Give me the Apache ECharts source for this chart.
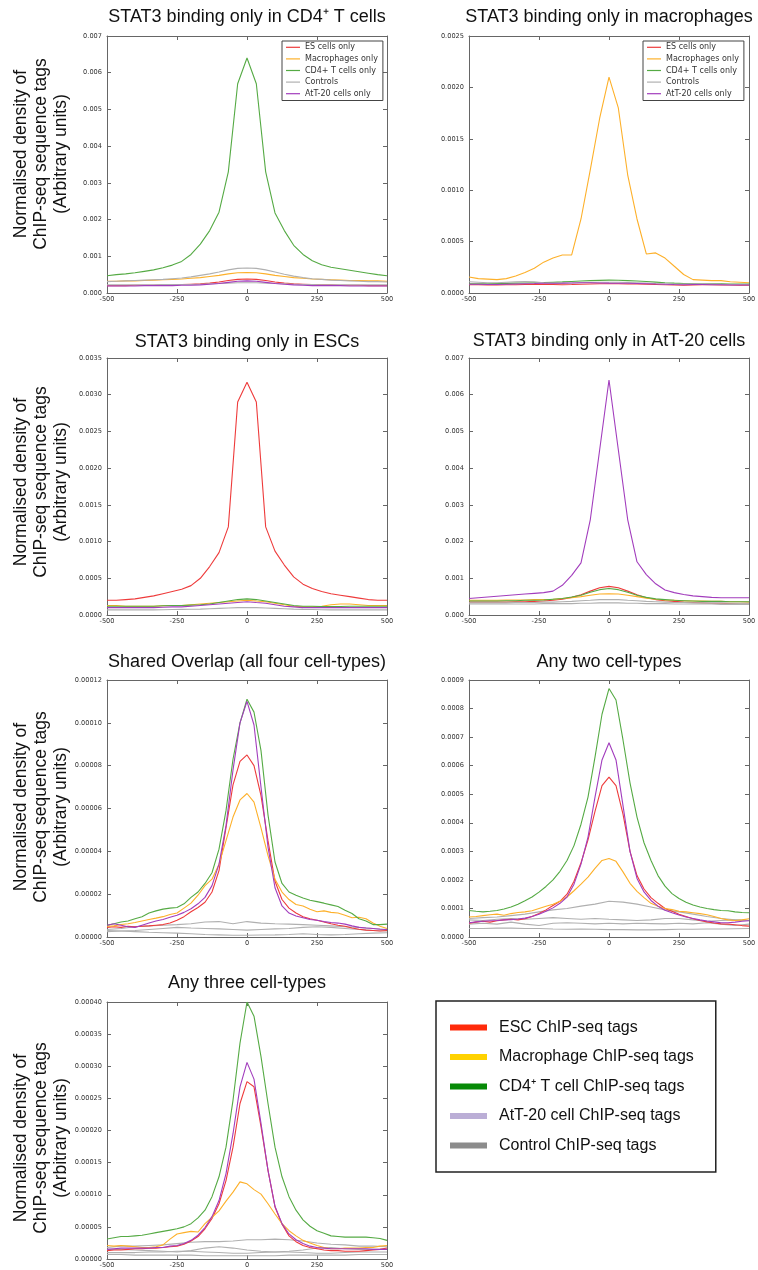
<!DOCTYPE html>
<html>
<head>
<meta charset="utf-8">
<title>STAT3 binding profiles</title>
<script src="https://cdn.jsdelivr.net/npm/echarts@6/dist/echarts.min.js"></script>
<style>
    html, body { margin: 0; padding: 0; background: #fff; }
    #main { width: 758px; height: 1270px; }
</style>
</head>
<body>
<div id="main"></div>
<script>
// ------ data ------------------------------------------------------------
// distance from the STAT3 peak (bp)
var xTop = [-500, -466.7, -433.3, -400, -366.7, -333.3, -300, -266.7, -233.3, -200, -166.7, -133.3, -100, -66.7, -33.3, 0,
    33.3, 66.7, 100, 133.3, 166.7, 200, 233.3, 266.7, 300, 333.3, 366.7, 400, 433.3, 466.7, 500];
var xFine = [-500, -475, -450, -425, -400, -375, -350, -325, -300, -275, -250, -225, -200, -175, -150, -125, -100, -75, -50, -25, 0,
    25, 50, 75, 100, 125, 150, 175, 200, 225, 250, 275, 300, 325, 350, 375, 400, 425, 450, 475, 500];
var xCoarse = [-500, -450, -400, -350, -300, -250, -200, -150, -100, -50, 0, 50, 100, 150, 200, 250, 300, 350, 400, 450, 500];

// STAT3 binding only in CD4+ T cells
var cd4Only_es = [0.00020, 0.00020, 0.00020, 0.00021, 0.00021, 0.00021, 0.00022, 0.00022, 0.00023, 0.00024, 0.00025, 0.00027, 0.00030, 0.00034, 0.00037, 0.00038,
    0.00037, 0.00034, 0.00030, 0.00027, 0.00025, 0.00024, 0.00023, 0.00022, 0.00022, 0.00021, 0.00021, 0.00021, 0.00020, 0.00020, 0.00020];
var cd4Only_mac = [0.00032, 0.00032, 0.00033, 0.00033, 0.00034, 0.00035, 0.00036, 0.00037, 0.00038, 0.00040, 0.00042, 0.00045, 0.00048, 0.00052, 0.00055, 0.00056,
    0.00055, 0.00052, 0.00048, 0.00045, 0.00042, 0.00040, 0.00038, 0.00037, 0.00036, 0.00035, 0.00034, 0.00034, 0.00033, 0.00033, 0.00032];
var cd4Only_cd4 = [0.00047, 0.00050, 0.00052, 0.00055, 0.00059, 0.00063, 0.00069, 0.00076, 0.00086, 0.00105, 0.00133, 0.00170, 0.00220, 0.00330, 0.00570, 0.00640,
    0.00570, 0.00330, 0.00218, 0.00170, 0.00130, 0.00105, 0.00088, 0.00077, 0.00070, 0.00066, 0.00062, 0.00058, 0.00054, 0.00050, 0.00047];
var cd4Only_ctrlA = [0.00031, 0.00032, 0.00033, 0.00034, 0.00035, 0.00036, 0.00037, 0.00039, 0.00041, 0.00044, 0.00048, 0.00052, 0.00057, 0.00063, 0.00067, 0.00068,
    0.00067, 0.00063, 0.00057, 0.00051, 0.00046, 0.00042, 0.00039, 0.00037, 0.00035, 0.00034, 0.00033, 0.00032, 0.00031, 0.00031, 0.00030];
var cd4Only_ctrlB = [0.00022, 0.00022, 0.00022, 0.00022, 0.00022, 0.00022, 0.00023, 0.00023, 0.00023, 0.00023, 0.00024, 0.00025, 0.00026, 0.00027, 0.00028, 0.00028,
    0.00028, 0.00027, 0.00026, 0.00025, 0.00024, 0.00023, 0.00023, 0.00022, 0.00022, 0.00022, 0.00022, 0.00022, 0.00022, 0.00022, 0.00022];
var cd4Only_att = [0.00019, 0.00019, 0.00019, 0.00019, 0.00020, 0.00020, 0.00020, 0.00020, 0.00021, 0.00021, 0.00022, 0.00024, 0.00026, 0.00029, 0.00032, 0.00033,
    0.00032, 0.00029, 0.00026, 0.00024, 0.00022, 0.00021, 0.00020, 0.00020, 0.00020, 0.00020, 0.00019, 0.00019, 0.00019, 0.00019, 0.00019];

// STAT3 binding only in macrophages
var macOnly_es = [0.000080, 0.000080, 0.000078, 0.000078, 0.000080, 0.000080, 0.000082, 0.000082, 0.000085, 0.000083, 0.000080, 0.000082, 0.000085, 0.000088, 0.000090, 0.000090,
    0.000090, 0.000088, 0.000088, 0.000086, 0.000083, 0.000080, 0.000078, 0.000075, 0.000078, 0.000080, 0.000080, 0.000078, 0.000078, 0.000077, 0.000077];
var macOnly_mac = [0.000155, 0.000140, 0.000135, 0.000130, 0.000140, 0.000165, 0.000200, 0.000240, 0.000300, 0.000340, 0.000370, 0.000370, 0.000720, 0.001200, 0.001700, 0.002100,
    0.001800, 0.001150, 0.000720, 0.000380, 0.000390, 0.000340, 0.000260, 0.000180, 0.000130, 0.000125, 0.000120, 0.000120, 0.000110, 0.000105, 0.000100];
var macOnly_cd4 = [0.000090, 0.000090, 0.000090, 0.000092, 0.000094, 0.000096, 0.000098, 0.000100, 0.000102, 0.000105, 0.000108, 0.000112, 0.000116, 0.000120, 0.000123, 0.000125,
    0.000124, 0.000120, 0.000116, 0.000112, 0.000106, 0.000100, 0.000096, 0.000093, 0.000092, 0.000090, 0.000090, 0.000090, 0.000088, 0.000088, 0.000088];
var macOnly_ctrl = [0.000110, 0.000105, 0.000100, 0.000100, 0.000105, 0.000110, 0.000112, 0.000108, 0.000100, 0.000095, 0.000095, 0.000097, 0.000100, 0.000102, 0.000104, 0.000105,
    0.000104, 0.000102, 0.000100, 0.000098, 0.000092, 0.000088, 0.000085, 0.000088, 0.000090, 0.000090, 0.000088, 0.000085, 0.000083, 0.000082, 0.000080];
var macOnly_att = [0.000085, 0.000085, 0.000083, 0.000082, 0.000085, 0.000088, 0.000090, 0.000092, 0.000095, 0.000095, 0.000096, 0.000098, 0.000100, 0.000100, 0.000098, 0.000096,
    0.000095, 0.000095, 0.000093, 0.000090, 0.000087, 0.000085, 0.000082, 0.000080, 0.000082, 0.000082, 0.000080, 0.000080, 0.000078, 0.000078, 0.000078];

// STAT3 binding only in ESCs
var escOnly_es = [0.00020, 0.00020, 0.00021, 0.00022, 0.00024, 0.00026, 0.00029, 0.00032, 0.00035, 0.00040, 0.00050, 0.00066, 0.00085, 0.00120, 0.00290, 0.00317,
    0.00290, 0.00120, 0.00087, 0.00068, 0.00052, 0.00042, 0.00036, 0.00032, 0.00029, 0.00027, 0.00025, 0.00023, 0.00021, 0.00020, 0.00020];
var escOnly_mac = [0.00013, 0.00013, 0.00012, 0.00012, 0.00012, 0.00012, 0.000125, 0.00013, 0.00013, 0.00014, 0.00015, 0.00016, 0.00017, 0.00018, 0.00019, 0.00020,
    0.00019, 0.00018, 0.00016, 0.00014, 0.00012, 0.00011, 0.00011, 0.00012, 0.00014, 0.00015, 0.00015, 0.00014, 0.00013, 0.00013, 0.00013];
var escOnly_cd4 = [0.00012, 0.00012, 0.00012, 0.00012, 0.00012, 0.00012, 0.000125, 0.00013, 0.00013, 0.000135, 0.00014, 0.00015, 0.00017, 0.00019, 0.00021, 0.00022,
    0.00021, 0.00019, 0.00017, 0.00015, 0.00013, 0.00012, 0.00012, 0.000115, 0.000115, 0.000115, 0.00012, 0.00012, 0.00012, 0.00012, 0.00012];
var escOnly_ctrl = [0.00007, 0.00007, 0.00007, 0.00007, 0.00007, 0.00007, 0.000072, 0.000074, 0.000076, 0.000078, 0.00008, 0.000085, 0.00009, 0.000095, 0.0001, 0.0001,
    0.0001, 0.000095, 0.00009, 0.000085, 0.00008, 0.000076, 0.000074, 0.000072, 0.00007, 0.00007, 0.00007, 0.00007, 0.00007, 0.00007, 0.00007];
var escOnly_att = [0.0001, 0.0001, 0.0001, 0.0001, 0.0001, 0.0001, 0.000105, 0.00011, 0.00011, 0.00012, 0.00013, 0.00014, 0.00015, 0.00016, 0.00017, 0.00018,
    0.00017, 0.00016, 0.00014, 0.00012, 0.00011, 0.0001, 0.0001, 0.0001, 0.0001, 0.0001, 0.0001, 0.0001, 0.0001, 0.0001, 0.0001];

// STAT3 binding only in AtT-20 cells
var attOnly_es = [0.00035, 0.00035, 0.00035, 0.00035, 0.00035, 0.00036, 0.00036, 0.00037, 0.00038, 0.00040, 0.00043, 0.00048, 0.00055, 0.00065, 0.00074, 0.00078,
    0.00074, 0.00065, 0.00055, 0.00047, 0.00042, 0.00039, 0.00037, 0.00035, 0.00034, 0.00033, 0.00032, 0.00032, 0.00031, 0.00030, 0.00030];
var attOnly_mac = [0.00040, 0.00040, 0.00040, 0.00040, 0.00041, 0.00041, 0.00041, 0.00042, 0.00042, 0.00043, 0.00045, 0.00047, 0.00050, 0.00054, 0.00057, 0.00058,
    0.00057, 0.00054, 0.00050, 0.00046, 0.00043, 0.00041, 0.00040, 0.00039, 0.00038, 0.00038, 0.00037, 0.00037, 0.00036, 0.00036, 0.00035];
var attOnly_cd4 = [0.00038, 0.00038, 0.00038, 0.00038, 0.00039, 0.00039, 0.00040, 0.00040, 0.00041, 0.00043, 0.00045, 0.00049, 0.00054, 0.00062, 0.00069, 0.00072,
    0.00069, 0.00062, 0.00054, 0.00048, 0.00044, 0.00042, 0.00040, 0.00039, 0.00038, 0.00037, 0.00037, 0.00037, 0.00036, 0.00036, 0.00036];
var attOnly_ctrlA = [0.00033, 0.00033, 0.00033, 0.00033, 0.00033, 0.00034, 0.00034, 0.00034, 0.00035, 0.00035, 0.00036, 0.00037, 0.00039, 0.00040, 0.00042, 0.00042,
    0.00042, 0.00040, 0.00039, 0.00037, 0.00036, 0.00035, 0.00034, 0.00034, 0.00033, 0.00033, 0.00033, 0.00033, 0.00032, 0.00032, 0.00032];
var attOnly_ctrlB = [0.00030, 0.00030, 0.00030, 0.00030, 0.00030, 0.00030, 0.00030, 0.00030, 0.00031, 0.00031, 0.00031, 0.00031, 0.00032, 0.00032, 0.00033, 0.00033,
    0.00033, 0.00032, 0.00032, 0.00031, 0.00031, 0.00031, 0.00030, 0.00030, 0.00030, 0.00030, 0.00030, 0.00029, 0.00029, 0.00029, 0.00029];
var attOnly_att = [0.00045, 0.00047, 0.00049, 0.00051, 0.00053, 0.00055, 0.00057, 0.00059, 0.00061, 0.00065, 0.00081, 0.00108, 0.00142, 0.00260, 0.00450, 0.00640,
    0.00450, 0.00260, 0.00145, 0.00110, 0.00085, 0.00068, 0.00061, 0.00056, 0.00052, 0.00050, 0.00048, 0.00047, 0.00047, 0.00047, 0.00047];

// Shared overlap (all four cell-types)
var shared_es = [0.0000045, 0.0000048, 0.0000045, 0.0000050, 0.0000048, 0.0000050, 0.0000052, 0.0000055, 0.0000058, 0.0000065,
    0.0000078, 0.0000095, 0.0000118, 0.0000138, 0.0000162, 0.0000210, 0.0000310, 0.0000510, 0.0000710, 0.0000820, 0.0000850,
    0.0000800, 0.0000660, 0.0000450, 0.0000260, 0.0000175, 0.0000135, 0.0000112, 0.0000095, 0.0000085, 0.0000078,
    0.0000070, 0.0000062, 0.0000055, 0.0000050, 0.0000042, 0.0000036, 0.0000032, 0.0000030, 0.0000028, 0.0000030];
var shared_mac = [0.0000050, 0.0000052, 0.0000058, 0.0000062, 0.0000068, 0.0000075, 0.0000082, 0.0000088, 0.0000095, 0.0000105,
    0.0000112, 0.0000135, 0.0000158, 0.0000195, 0.0000240, 0.0000270, 0.0000340, 0.0000450, 0.0000560, 0.0000640, 0.0000670,
    0.0000630, 0.0000510, 0.0000380, 0.0000270, 0.0000210, 0.0000175, 0.0000152, 0.0000145, 0.0000130, 0.0000118,
    0.0000122, 0.0000115, 0.0000112, 0.0000102, 0.0000090, 0.0000092, 0.0000085, 0.0000065, 0.0000050, 0.0000040];
var shared_cd4 = [0.0000055, 0.0000062, 0.0000070, 0.0000075, 0.0000085, 0.0000095, 0.0000112, 0.0000122, 0.0000130, 0.0000135,
    0.0000138, 0.0000155, 0.0000185, 0.0000210, 0.0000250, 0.0000300, 0.0000410, 0.0000590, 0.0000830, 0.0001000, 0.0001110,
    0.0001050, 0.0000870, 0.0000570, 0.0000350, 0.0000250, 0.0000210, 0.0000195, 0.0000182, 0.0000172, 0.0000165,
    0.0000158, 0.0000150, 0.0000142, 0.0000125, 0.0000110, 0.0000085, 0.0000075, 0.0000058, 0.0000058, 0.0000060];
var shared_att = [0.0000055, 0.0000062, 0.0000055, 0.0000048, 0.0000045, 0.0000055, 0.0000065, 0.0000075, 0.0000082, 0.0000092,
    0.0000102, 0.0000115, 0.0000132, 0.0000155, 0.0000185, 0.0000240, 0.0000340, 0.0000520, 0.0000780, 0.0001000, 0.0001100,
    0.0000990, 0.0000700, 0.0000420, 0.0000230, 0.0000145, 0.0000112, 0.0000098, 0.0000090, 0.0000082, 0.0000078,
    0.0000072, 0.0000068, 0.0000065, 0.0000060, 0.0000052, 0.0000045, 0.0000042, 0.0000040, 0.0000036, 0.0000035];
var shared_ctrlA = [0.0000035, 0.0000040, 0.0000048, 0.0000052, 0.0000055, 0.0000058, 0.0000062, 0.0000070, 0.0000072, 0.0000062, 0.0000072,
    0.0000065, 0.0000062, 0.0000060, 0.0000058, 0.0000055, 0.0000052, 0.0000048, 0.0000045, 0.0000040, 0.0000035];
var shared_ctrlB = [0.0000025, 0.0000028, 0.0000030, 0.0000035, 0.0000040, 0.0000045, 0.0000042, 0.0000040, 0.0000038, 0.0000035, 0.0000032,
    0.0000035, 0.0000038, 0.0000040, 0.0000045, 0.0000048, 0.0000045, 0.0000040, 0.0000035, 0.0000030, 0.0000028];
var shared_ctrlC = [0.0000030, 0.0000028, 0.0000025, 0.0000022, 0.0000020, 0.0000018, 0.0000015, 0.0000012, 0.0000010, 0.0000008, 0.0000008,
    0.0000009, 0.0000010, 0.0000012, 0.0000015, 0.0000012, 0.0000010, 0.0000012, 0.0000015, 0.0000018, 0.0000020];

// Any two cell-types
var two_es = [0.000048, 0.000052, 0.000055, 0.000052, 0.000057, 0.000060, 0.000062, 0.000060, 0.000064, 0.000072,
    0.000082, 0.000095, 0.000110, 0.000125, 0.000150, 0.000195, 0.000260, 0.000340, 0.000440, 0.000530, 0.000560,
    0.000530, 0.000430, 0.000300, 0.000215, 0.000168, 0.000138, 0.000118, 0.000100, 0.000090, 0.000080,
    0.000072, 0.000064, 0.000058, 0.000053, 0.000049, 0.000046, 0.000045, 0.000043, 0.000040, 0.000038];
var two_mac = [0.000070, 0.000072, 0.000075, 0.000078, 0.000080, 0.000076, 0.000082, 0.000086, 0.000088, 0.000092,
    0.000100, 0.000108, 0.000115, 0.000125, 0.000140, 0.000162, 0.000185, 0.000210, 0.000240, 0.000268, 0.000275,
    0.000265, 0.000228, 0.000188, 0.000160, 0.000138, 0.000118, 0.000108, 0.000100, 0.000096, 0.000090,
    0.000088, 0.000085, 0.000082, 0.000078, 0.000072, 0.000065, 0.000060, 0.000058, 0.000060, 0.000064];
var two_cd4 = [0.000093, 0.000090, 0.000088, 0.000090, 0.000093, 0.000098, 0.000105, 0.000115, 0.000127, 0.000140,
    0.000157, 0.000177, 0.000200, 0.000230, 0.000268, 0.000320, 0.000395, 0.000490, 0.000630, 0.000780, 0.000870,
    0.000830, 0.000690, 0.000540, 0.000420, 0.000330, 0.000268, 0.000215, 0.000178, 0.000152, 0.000135,
    0.000122, 0.000112, 0.000105, 0.000100, 0.000096, 0.000093, 0.000092, 0.000088, 0.000086, 0.000085];
var two_att = [0.000050, 0.000053, 0.000055, 0.000057, 0.000058, 0.000060, 0.000061, 0.000063, 0.000066, 0.000072,
    0.000080, 0.000090, 0.000102, 0.000118, 0.000140, 0.000185, 0.000255, 0.000350, 0.000490, 0.000620, 0.000680,
    0.000620, 0.000460, 0.000300, 0.000205, 0.000158, 0.000128, 0.000108, 0.000094, 0.000085, 0.000077,
    0.000070, 0.000065, 0.000060, 0.000056, 0.000053, 0.000050, 0.000050, 0.000052, 0.000055, 0.000057];
var two_ctrlA = [0.000065, 0.000068, 0.000070, 0.000075, 0.000080, 0.000088, 0.000095, 0.000100, 0.000108, 0.000115, 0.000125,
    0.000122, 0.000115, 0.000105, 0.000095, 0.000088, 0.000080, 0.000072, 0.000065, 0.000060, 0.000058];
var two_ctrlB = [0.000060, 0.000058, 0.000062, 0.000065, 0.000062, 0.000065, 0.000068, 0.000065, 0.000062, 0.000065, 0.000062,
    0.000060, 0.000058, 0.000060, 0.000065, 0.000065, 0.000060, 0.000055, 0.000058, 0.000060, 0.000058];
var two_ctrlC = [0.000045, 0.000048, 0.000045, 0.000052, 0.000045, 0.000040, 0.000048, 0.000050, 0.000048, 0.000046, 0.000048,
    0.000046, 0.000048, 0.000047, 0.000046, 0.000048, 0.000046, 0.000050, 0.000045, 0.000040, 0.000045];
var two_ctrlD = [0.000030, 0.000030, 0.000031, 0.000031, 0.000030, 0.000030, 0.000028, 0.000027, 0.000028, 0.000027, 0.000026,
    0.000026, 0.000025, 0.000025, 0.000026, 0.000027, 0.000027, 0.000028, 0.000028, 0.000029, 0.000030];

// Any three cell-types
var three_es = [0.000013, 0.000014, 0.000014, 0.000015, 0.000016, 0.000016, 0.000017, 0.000017, 0.000018, 0.000019,
    0.000020, 0.000023, 0.000028, 0.000035, 0.000047, 0.000063, 0.000086, 0.000122, 0.000174, 0.000242, 0.000276,
    0.000268, 0.000206, 0.000138, 0.000081, 0.000054, 0.000036, 0.000027, 0.000021, 0.000018, 0.000016,
    0.000014, 0.000013, 0.000013, 0.000012, 0.000012, 0.000012, 0.000013, 0.000014, 0.000015, 0.000017];
var three_mac = [0.000021, 0.000020, 0.000021, 0.000020, 0.000019, 0.000018, 0.000018, 0.000019, 0.000022, 0.000031,
    0.000039, 0.000041, 0.000043, 0.000042, 0.000055, 0.000065, 0.000075, 0.000090, 0.000104, 0.000120, 0.000117,
    0.000108, 0.000101, 0.000086, 0.000070, 0.000055, 0.000044, 0.000036, 0.000029, 0.000025, 0.000021,
    0.000018, 0.000016, 0.000016, 0.000017, 0.000017, 0.000017, 0.000018, 0.000018, 0.000020, 0.000021];
var three_cd4 = [0.000031, 0.000033, 0.000035, 0.000035, 0.000036, 0.000037, 0.000039, 0.000041, 0.000043, 0.000045,
    0.000047, 0.000050, 0.000055, 0.000064, 0.000076, 0.000097, 0.000128, 0.000174, 0.000247, 0.000336, 0.000400,
    0.000378, 0.000315, 0.000242, 0.000174, 0.000128, 0.000097, 0.000076, 0.000061, 0.000051, 0.000044,
    0.000040, 0.000036, 0.000035, 0.000034, 0.000034, 0.000034, 0.000034, 0.000033, 0.000032, 0.000029];
var three_att = [0.000015, 0.000016, 0.000017, 0.000017, 0.000017, 0.000017, 0.000017, 0.000018, 0.000018, 0.000020,
    0.000021, 0.000024, 0.000029, 0.000037, 0.000049, 0.000066, 0.000091, 0.000133, 0.000195, 0.000268, 0.000306,
    0.000280, 0.000211, 0.000138, 0.000082, 0.000055, 0.000039, 0.000030, 0.000024, 0.000020, 0.000018,
    0.000017, 0.000016, 0.000016, 0.000016, 0.000016, 0.000016, 0.000016, 0.000015, 0.000015, 0.000015];
var three_ctrlA = [0.000018, 0.000020, 0.000020, 0.000021, 0.000022, 0.000024, 0.000026, 0.000027, 0.000027, 0.000028, 0.000030,
    0.000030, 0.000031, 0.000030, 0.000028, 0.000025, 0.000023, 0.000022, 0.000020, 0.000020, 0.000019];
var three_ctrlB = [0.000015, 0.000015, 0.000014, 0.000013, 0.000012, 0.000011, 0.000013, 0.000017, 0.000019, 0.000017, 0.000014,
    0.000012, 0.000011, 0.000012, 0.000014, 0.000017, 0.000018, 0.000016, 0.000015, 0.000015, 0.000015];
var three_ctrlC = [0.000010, 0.000010, 0.000010, 0.000011, 0.000011, 0.000012, 0.000012, 0.000011, 0.000010, 0.000009, 0.000009,
    0.000010, 0.000011, 0.000011, 0.000010, 0.000009, 0.000009, 0.000010, 0.000011, 0.000011, 0.000011];
var three_ctrlD = [0.000007, 0.000007, 0.000006, 0.000006, 0.000006, 0.000006, 0.000006, 0.000005, 0.000005, 0.000005, 0.000005,
    0.000005, 0.000005, 0.000006, 0.000006, 0.000006, 0.000006, 0.000006, 0.000007, 0.000007, 0.000007];

// legend names
var topNames = ["ES cells only", "Macrophages only", "CD4+ T cells only", "Controls", "AtT-20 cells only"];
var keyNames = ["ESC ChIP-seq tags", "Macrophage ChIP-seq tags", "CD4\u207a T cell ChIP-seq tags", "AtT-20 cell ChIP-seq tags", "Control ChIP-seq tags"];

// ------ styles ----------------------------------------------------------
var RED = "#ee3b3b", ORANGE = "#fdb02a", GREEN = "#55aa44", PURPLE = "#a23dbd", GREY = "#b0b0b0";
var keyColors = ["#ff2a0a", "#ffd200", "#078a07", "#bbaed6", "#8c8c8c"];
var yName = "Normalised density of\nChIP-seq sequence tags\n(Arbitrary units)";

// nameY: vertical centre of the rotated y title (null = none)
var panels = [
    {
        title: "STAT3 binding only in CD4\u207a T cells", left: 107, top: 36, titleY: 17, yMax: 0.007, step: 0.001, dec: 3, nameY: 154,
        lines: [[topNames[0], RED, xTop, cd4Only_es], [topNames[1], ORANGE, xTop, cd4Only_mac], [topNames[2], GREEN, xTop, cd4Only_cd4],
            [topNames[3], GREY, xTop, cd4Only_ctrlA], [topNames[3], GREY, xTop, cd4Only_ctrlB], [topNames[4], PURPLE, xTop, cd4Only_att]]
    },
    {
        title: "STAT3 binding only in macrophages", left: 469, top: 36, titleY: 17, yMax: 0.0025, step: 0.0005, dec: 4, nameY: null,
        lines: [[topNames[0], RED, xTop, macOnly_es], [topNames[1], ORANGE, xTop, macOnly_mac], [topNames[2], GREEN, xTop, macOnly_cd4],
            [topNames[3], GREY, xTop, macOnly_ctrl], [topNames[4], PURPLE, xTop, macOnly_att]]
    },
    {
        title: "STAT3 binding only in ESCs", left: 107, top: 358, titleY: 342, yMax: 0.0035, step: 0.0005, dec: 4, nameY: 482,
        lines: [[topNames[0], RED, xTop, escOnly_es], [topNames[1], ORANGE, xTop, escOnly_mac], [topNames[2], GREEN, xTop, escOnly_cd4],
            [topNames[3], GREY, xTop, escOnly_ctrl], [topNames[4], PURPLE, xTop, escOnly_att]]
    },
    {
        title: "STAT3 binding only in AtT-20 cells", left: 469, top: 358, titleY: 341, yMax: 0.007, step: 0.001, dec: 3, nameY: null,
        lines: [[topNames[0], RED, xTop, attOnly_es], [topNames[1], ORANGE, xTop, attOnly_mac], [topNames[2], GREEN, xTop, attOnly_cd4],
            [topNames[3], GREY, xTop, attOnly_ctrlA], [topNames[3], GREY, xTop, attOnly_ctrlB], [topNames[4], PURPLE, xTop, attOnly_att]]
    },
    {
        title: "Shared Overlap (all four cell-types)", left: 107, top: 680, titleY: 662, yMax: 0.00012, step: 0.00002, dec: 5, nameY: 807,
        lines: [[keyNames[4], GREY, xCoarse, shared_ctrlA], [keyNames[4], GREY, xCoarse, shared_ctrlB], [keyNames[4], GREY, xCoarse, shared_ctrlC],
            [keyNames[0], RED, xFine, shared_es], [keyNames[1], ORANGE, xFine, shared_mac], [keyNames[2], GREEN, xFine, shared_cd4],
            [keyNames[3], PURPLE, xFine, shared_att]]
    },
    {
        title: "Any two cell-types", left: 469, top: 680, titleY: 662, yMax: 0.0009, step: 0.0001, dec: 4, nameY: null,
        lines: [[keyNames[4], GREY, xCoarse, two_ctrlA], [keyNames[4], GREY, xCoarse, two_ctrlB], [keyNames[4], GREY, xCoarse, two_ctrlC],
            [keyNames[4], GREY, xCoarse, two_ctrlD], [keyNames[0], RED, xFine, two_es], [keyNames[1], ORANGE, xFine, two_mac],
            [keyNames[2], GREEN, xFine, two_cd4], [keyNames[3], PURPLE, xFine, two_att]]
    },
    {
        title: "Any three cell-types", left: 107, top: 1002, titleY: 983, yMax: 0.0004, step: 0.00005, dec: 5, nameY: 1138,
        lines: [[keyNames[4], GREY, xCoarse, three_ctrlA], [keyNames[4], GREY, xCoarse, three_ctrlB], [keyNames[4], GREY, xCoarse, three_ctrlC],
            [keyNames[4], GREY, xCoarse, three_ctrlD], [keyNames[0], RED, xFine, three_es], [keyNames[1], ORANGE, xFine, three_mac],
            [keyNames[2], GREEN, xFine, three_cd4], [keyNames[3], PURPLE, xFine, three_att]]
    }
];

// zip x and y into points
function pairs(xs, ys) {
    var out = [];
    for (var i = 0; i < xs.length; i++) {
        out.push([xs[i], ys[i]]);
    }
    return out;
}

var AXIS = "#666";
var tickFont = { fontSize: 6.6, color: "#333", fontFamily: "DejaVu Sans" };

function xAxisFor(k, pos, withLabels) {
    return {
        type: "value", gridIndex: k, position: pos, min: -500, max: 500, interval: 250,
        axisLine: { show: true, onZero: false, lineStyle: { color: AXIS, width: 1 } },
        axisTick: { show: true, inside: true, length: 4, lineStyle: { color: AXIS } },
        axisLabel: Object.assign({ show: withLabels, margin: 3 }, tickFont),
        splitLine: { show: false }
    };
}

function yAxisFor(k, p, pos, withLabels) {
    return {
        type: "value", gridIndex: k, position: pos, min: 0, max: p.yMax, interval: p.step,
        axisLine: { show: true, onZero: false, lineStyle: { color: AXIS, width: 1 } },
        axisTick: { show: true, inside: true, length: 4, lineStyle: { color: AXIS } },
        axisLabel: Object.assign({
            show: withLabels, margin: 5,
            formatter: function (v) { return v.toFixed(p.dec); }
        }, tickFont),
        splitLine: { show: false }
    };
}

var grids = [], xAxes = [], yAxes = [], series = [], graphics = [];

panels.forEach(function (p, k) {
    grids.push({ left: p.left, top: p.top, width: 280, height: 257, outerBoundsMode: "none" });
    // bottom/left axes carry labels, top/right only close the box
    xAxes.push(xAxisFor(k, "bottom", true));
    xAxes.push(xAxisFor(k, "top", false));
    yAxes.push(yAxisFor(k, p, "left", true));
    yAxes.push(yAxisFor(k, p, "right", false));

    p.lines.forEach(function (l) {
        series.push({
            type: "line",
            name: l[0],
            xAxisIndex: 2 * k,
            yAxisIndex: 2 * k,
            data: pairs(l[2], l[3]),
            symbol: "none",
            silent: true,
            lineStyle: { color: l[1], width: 1.1 },
            itemStyle: { color: l[1] }
        });
    });

    // panel title
    graphics.push({
        type: "text",
        x: p.left + 140,
        y: p.titleY,
        style: {
            text: p.title, fill: "#111", font: '18px "Liberation Sans"',
            align: "center", verticalAlign: "middle"
        }
    });

    // rotated y title on the left column
    if (p.nameY !== null) {
        graphics.push({
            type: "text",
            x: 41,
            y: p.nameY,
            rotation: Math.PI / 2,
            style: {
                text: yName, fill: "#111", font: '17.5px "Liberation Sans"', lineHeight: 20,
                align: "center", verticalAlign: "middle"
            }
        });
    }
});

// small legend inside a top panel
function smallLegend(left) {
    return {
        data: topNames, left: left, top: 41, orient: "vertical",
        selectedMode: false, icon: "rect", itemWidth: 14, itemHeight: 1.2, itemGap: 2,
        padding: [1.5, 5, 2, 4],
        backgroundColor: "#fff", borderColor: "#444", borderWidth: 1,
        itemStyle: { borderWidth: 0 },
        textStyle: { fontSize: 8, lineHeight: 9.6, color: "#333", fontFamily: "DejaVu Sans" }
    };
}

var chart = echarts.init(document.getElementById("main"));
var option = {
    animation: false,
    backgroundColor: "#fff",
    grid: grids,
    xAxis: xAxes,
    yAxis: yAxes,
    series: series,
    graphic: graphics,
    legend: [
        smallLegend(282),
        smallLegend(643),
        {
            // key for the lower panels
            data: keyNames.map(function (n, i) {
                return { name: n, itemStyle: { color: keyColors[i], borderWidth: 0 } };
            }),
            left: 436, top: 1001, orient: "vertical",
            selectedMode: false, icon: "rect", itemWidth: 37, itemHeight: 6, itemGap: 12.5,
            padding: [18, 22, 18, 14],
            borderColor: "#222", borderWidth: 1.5,
            itemStyle: { borderWidth: 0 },
            textStyle: { fontSize: 16, lineHeight: 17, color: "#111", fontFamily: "Liberation Sans", padding: [0, 0, 0, 7] }
        }
    ]
};
chart.setOption(option);

window.addEventListener("resize", function () {
    chart.resize();
});
</script>
</body>
</html>
